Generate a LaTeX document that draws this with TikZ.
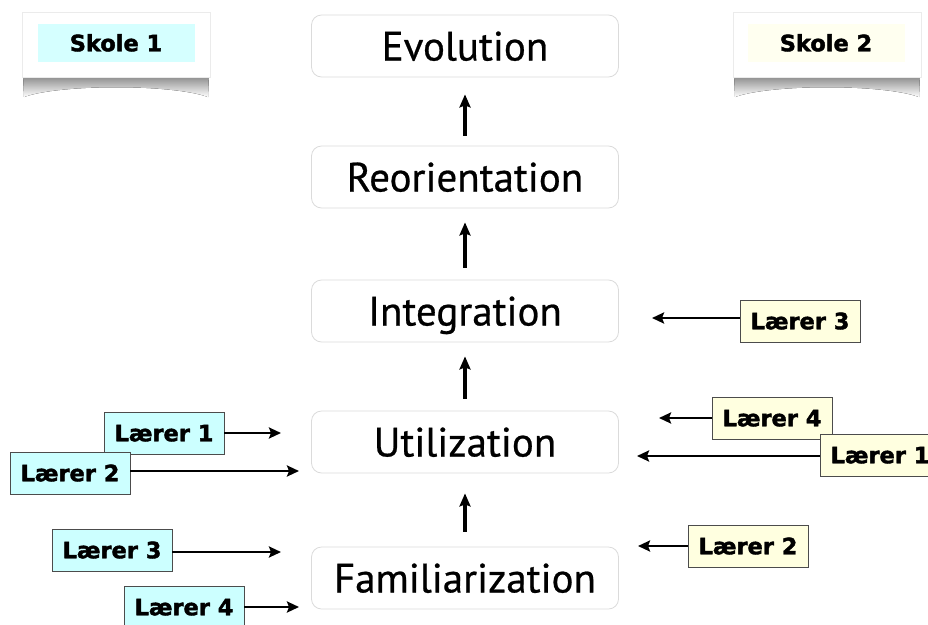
\documentclass[tikz,border=0pt]{standalone}
\usepackage{fontspec}
\setmainfont{DejaVu Sans}
\newfontfamily\stagefont[FakeBold=0.6]{PT Sans}
\newfontfamily\labfont[FakeBold=1.8]{DejaVu Sans Bold}
\usetikzlibrary{arrows.meta}
\definecolor{leftfill}{HTML}{CCFFFF}
\definecolor{rightfill}{HTML}{FFFFE0}
\definecolor{skoleonefill}{HTML}{D5FFFF}
\definecolor{skoletwofill}{HTML}{FFFFF0}
\begin{document}
\begin{tikzpicture}[x=1pt,y=-1pt,
  stage/.style={draw=black!14, line width=0.8pt, rounded corners=10pt, fill=white,
    minimum width=307pt, minimum height=62pt, inner sep=0pt,
    text height=29pt, text depth=0pt,
    font=\stagefont\fontsize{41}{48}\selectfont},
  lab/.style={draw=black!70, line width=0.9pt, minimum width=120pt, minimum height=42pt,
    inner sep=0pt, text height=16.5pt, text depth=0pt,
    font=\labfont\fontsize{22.5}{26}\selectfont},
  leftlab/.style={lab, fill=leftfill},
  rightlab/.style={lab, fill=rightfill},
  stagearrow/.style={line width=3.4pt, -{Stealth[length=13pt,width=11pt,inset=2pt]}},
  labarrow/.style={line width=2.8pt, -{Stealth[length=12pt,width=11pt,inset=2pt]}},
  paper/.style={fill=white, draw=black!8, line width=0.6pt},
  papershadow/.style={top color=black!50, bottom color=white, draw=none},
  skolelab/.style={inner sep=0pt, minimum width=157pt, minimum height=38pt,
    text height=16.5pt, text depth=0pt, font=\labfont\fontsize{22.5}{26}\selectfont}
]
\useasboundingbox (0,0) rectangle (928,624);

% Skole 1 paper
\fill[papershadow] (23,74) -- (24,97) .. controls (60,84) and (172,84) .. (208,97) -- (209,74) -- cycle;
\filldraw[paper] (22,12) rectangle (210,77);
\node[skolelab, fill=skoleonefill] (s1) at (116,43) {Skole 1};

% Skole 2 paper
\fill[papershadow] (734,74) -- (735,97) .. controls (771,84) and (883,84) .. (919,97) -- (920,74) -- cycle;
\filldraw[paper] (733,12) rectangle (921,77);
\node[skolelab, fill=skoletwofill] (s2) at (826,43) {Skole 2};

% stages
\node[stage] (evo) at (465,46) {Evolution};
\node[stage] (reo) at (465,177) {Reorientation};
\node[stage] (int) at (465,311) {Integration};
\node[stage] (uti) at (465,442) {Utilization};
\node[stage] (fam) at (465,578) {Familiarization};

\draw[stagearrow, shorten <=10pt, shorten >=17pt] (reo) -- (evo);
\draw[stagearrow, shorten <=12pt, shorten >=14pt] (int) -- (reo);
\draw[stagearrow, shorten <=12pt, shorten >=14pt] (uti) -- (int);
\draw[stagearrow, shorten <=15pt, shorten >=20pt] (fam) -- (uti);

% left labels
\node[leftlab] (l1) at (164,433) {Lærer 1};
\node[leftlab] (l2) at (70,473) {Lærer 2};
\node[leftlab] (l3) at (112,550) {Lærer 3};
\node[leftlab] (l4) at (184,607) {Lærer 4};

\coordinate (l1e) at (281,433);
\coordinate (l2e) at (299,471);
\coordinate (l3e) at (281,552);
\coordinate (l4e) at (299,607);
\draw[labarrow] (l1) -- (l1e);
\draw[labarrow] (l2.east |- l2e) -- (l2e);
\draw[labarrow] (l3.east |- l3e) -- (l3e);
\draw[labarrow] (l4) -- (l4e);

% right labels
\node[rightlab] (r3) at (800,321) {Lærer 3};
\node[rightlab] (r4) at (772,418) {Lærer 4};
\node[rightlab] (r1) at (880,455) {Lærer 1};
\node[rightlab] (r2) at (748,546) {Lærer 2};

\coordinate (r3e) at (652,318);
\coordinate (r4e) at (659,418);
\coordinate (r1e) at (637,456);
\coordinate (r2e) at (638,546);
\draw[labarrow] (r3.west |- r3e) -- (r3e);
\draw[labarrow] (r4) -- (r4e);
\draw[labarrow] (r1.west |- r1e) -- (r1e);
\draw[labarrow] (r2) -- (r2e);
\end{tikzpicture}
\end{document}
